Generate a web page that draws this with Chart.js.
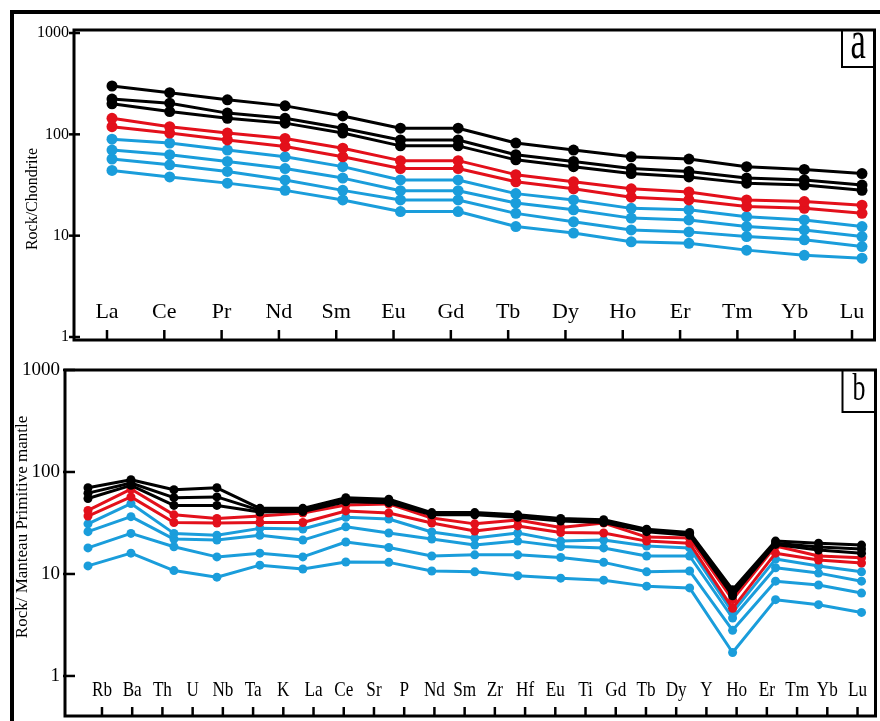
<!DOCTYPE html>
<html><head><meta charset="utf-8">
<script src="https://cdn.jsdelivr.net/npm/chart.js@4.4.1/dist/chart.umd.min.js"></script>
<style>
html,body{margin:0;padding:0;background:#fff;}
#wrap{position:relative;width:880px;height:721px;overflow:hidden;background:#fff;}
#ca{position:absolute;left:0;top:0;}
#cb{position:absolute;left:0;top:360px;}
#outer{position:absolute;left:10px;top:10px;width:900px;height:760px;border-left:4px solid #000;border-top:4px solid #000;box-sizing:border-box;}
</style></head><body>
<div id="wrap"><div id="outer"></div><canvas id="ca" width="880" height="360"></canvas><canvas id="cb" width="880" height="361"></canvas></div>
<script>
// ---------- Panel a : chondrite-normalised REE ----------
const reeLabels = ['La','Ce','Pr','Nd','Sm','Eu','Gd','Tb','Dy','Ho','Er','Tm','Yb','Lu'];
const reeBlack1 = [300,258,219,191,152,115,115,82,70,60,57,48,45,41];
const reeBlack2 = [223,203,162,144,115,88,88,63,54,46,43,37,35.5,31.6];
const reeBlack3 = [200,168,144,129,103,77,77,56,48,41,38,33,31.6,28];
const reeRed1   = [144,119,103,91,73,55,55,40,34,29,27,22.5,21.7,20];
const reeRed2   = [119,103,88,76,60,46,46,34,29,24,22.5,19.4,18.6,16.6];
const reeBlue1  = [89.5,82,70,60,48,35.5,35.5,26,22.5,18.6,18,15.4,14.3,12.3];
const reeBlue2  = [70,63,54,46,37,27.8,27.8,21,18,14.9,14.3,12.3,11.4,9.8];
const reeBlue3  = [57,50,43,35.5,28,22.5,22.5,16.6,13.7,11.4,10.9,9.8,9.1,7.8];
const reeBlue4  = [44,38,33,28,22.5,17.3,17.3,12.3,10.6,8.7,8.4,7.2,6.4,6.0];
const reeYTicks = [1,10,100,1000];

// ---------- Panel b : primitive-mantle-normalised spider ----------
const pmPointCats = ['Rb','Ba','Th','Nb','Ta','La','Ce','Sr','Nd','Sm','Zr','Eu','Gd','Tb','Dy','Ho','Er','Yb','Lu'];
const pmTickLabels = ['Rb','Ba','Th','U','Nb','Ta','K','La','Ce','Sr','P','Nd','Sm','Zr','Hf','Eu','Ti','Gd','Tb','Dy','Y','Ho','Er','Tm','Yb','Lu'];
const pmBlack1 = [70,84,67,70,44,44,56,54,40,40,38,35,34,27.5,25.5,7.0,21,20,19.2];
const pmBlack2 = [62,78,56,57,42,42,53,52,39,39,37,34,33,27,25,6.5,20,18.4,17.6];
const pmBlack3 = [55,74,47,47,40.5,41,51,50,38,38,36,33,32,26,24,6.1,19.5,17.2,16];
const pmRed1   = [42,68,38,35,37,39.6,47.5,48.6,35.4,31,33.8,28.6,31.6,23,22.5,5.6,18.8,15,14.4];
const pmRed2   = [37,57,32,31.6,32,32,41.5,39.6,31.6,26.4,29.6,25.5,25.2,21,20,4.6,16,13.7,12.8];
const pmBlue1  = [31,49,25,24,28,27.6,36,34.6,25.8,22.5,25.2,21,21.5,18.8,18,4.2,14,12,10.5];
const pmBlue2  = [26,36.5,22,21.5,24,21.5,29,25.2,22,19.2,21,18.6,18,15,15,3.7,11.5,10.2,8.5];
const pmBlue3  = [18,25,18.5,14.7,16,14.7,20.6,18.2,15,15.4,15.4,14.5,13,10.5,10.7,2.8,8.5,7.8,6.5];
const pmBlue4  = [12,16,10.8,9.3,12.2,11.2,13.1,13,10.7,10.5,9.6,9.1,8.7,7.6,7.3,1.7,5.6,5.0,4.2];
const pmYTicks = [1,10,100,1000];

const BLACK = '#000000', RED = '#e3101b', BLUE = '#1a9ddb';
const SERIF = '"Liberation Serif", "Times New Roman", serif';

function ds(arr, color, r){
  return {data: arr.map((v,i)=>({x:i,y:v})), borderColor:color, backgroundColor:color,
    borderWidth:3, pointRadius:r, pointBorderWidth:0, pointBackgroundColor:color, tension:0, fill:false};
}

function panelPlugin(o){
  return {
    id:'panel_'+o.letter,
    afterDraw(chart){
      const ctx = chart.ctx, a = chart.chartArea, ys = chart.scales.y, xl = chart.scales.xl;
      ctx.save();
      ctx.strokeStyle = '#000'; ctx.fillStyle = '#000';
      // frame
      ctx.lineWidth = 3;
      ctx.strokeRect(a.left, a.top, a.right - a.left, a.bottom - a.top);
      // y ticks + labels
      ctx.font = o.yFont; ctx.textAlign = 'right'; ctx.textBaseline = 'middle';
      ctx.lineWidth = 2.5;
      o.yTicks.forEach(v => {
        const p = ys.getPixelForValue(v);
        ctx.beginPath(); ctx.moveTo(a.left - o.yTickOut, p); ctx.lineTo(a.left + o.yTickIn, p); ctx.stroke();
        ctx.fillText(String(v), a.left - o.yLabelGap, p);
      });
      // x ticks + labels (inside plot)
      o.xLabels.forEach((t, i) => {
        const px = xl.getPixelForValue(i);
        ctx.lineWidth = 2.5;
        ctx.beginPath(); ctx.moveTo(px, a.bottom); ctx.lineTo(px, a.bottom - o.xTickLen); ctx.stroke();
        ctx.save();
        ctx.translate(px, a.bottom - o.labelRaise);
        ctx.scale(o.xScaleX, 1);
        ctx.font = o.xFont; ctx.textAlign = 'center'; ctx.textBaseline = 'alphabetic';
        ctx.fillText(t, 0, 0);
        ctx.restore();
      });
      // axis title
      ctx.save();
      ctx.translate(o.titleX, o.titleY);
      ctx.rotate(-Math.PI/2);
      ctx.font = o.titleFont; ctx.textAlign = 'center'; ctx.textBaseline = 'middle';
      ctx.fillText(o.title, 0, 0);
      ctx.restore();
      // letter box
      ctx.lineWidth = 2;
      ctx.strokeRect(a.right - o.boxW, a.top, o.boxW, o.boxH);
      ctx.save();
      ctx.translate(a.right - o.boxW/2, a.top + o.letterBase);
      ctx.scale(o.letterScaleX, 1);
      ctx.font = o.letterFont; ctx.textAlign = 'center'; ctx.textBaseline = 'alphabetic';
      ctx.fillText(o.letter, 0, 0);
      ctx.restore();
      ctx.restore();
    }
  };
}

function makeChart(id, sets, scales, padding, plugin){
  return new Chart(document.getElementById(id), {
    type:'line',
    data:{datasets:sets},
    options:{
      responsive:false, animation:false, devicePixelRatio:1,
      layout:{padding:padding},
      plugins:{legend:{display:false}, tooltip:{enabled:false}},
      scales:scales,
      elements:{line:{borderJoinStyle:'round'}}
    },
    plugins:[plugin]
  });
}

makeChart('ca', [
    ds(reeBlack1,BLACK,5.5), ds(reeBlack2,BLACK,5.5), ds(reeBlack3,BLACK,5.5),
    ds(reeRed1,RED,5.5), ds(reeRed2,RED,5.5),
    ds(reeBlue1,BLUE,5.5), ds(reeBlue2,BLUE,5.5), ds(reeBlue3,BLUE,5.5), ds(reeBlue4,BLUE,5.5)
  ],
  {
    x:{type:'linear', display:false, min:-0.6587, max:13.2167},
    xl:{type:'linear', display:false, min:-0.5758, max:13.3926},
    y:{type:'logarithmic', display:false, min:0.934, max:1071}
  },
  {left:74, top:30, right:5.5, bottom:20},
  panelPlugin({letter:'a', yTicks:reeYTicks, xLabels:reeLabels,
    yFont:'16px '+SERIF, yTickOut:5, yTickIn:6, yLabelGap:5,
    xFont:'22px '+SERIF, xScaleX:1, xTickLen:10, labelRaise:22,
    title:'Rock/Chondrite', titleFont:'16px '+SERIF, titleX:33, titleY:199,
    boxW:32.5, boxH:37, letterBase:28, letterFont:'54px '+SERIF, letterScaleX:0.64})
);

makeChart('cb', [
    ds(pmBlack1,BLACK,4.5), ds(pmBlack2,BLACK,4.5), ds(pmBlack3,BLACK,4.5),
    ds(pmRed1,RED,4.5), ds(pmRed2,RED,4.5),
    ds(pmBlue1,BLUE,4.5), ds(pmBlue2,BLUE,4.5), ds(pmBlue3,BLUE,4.5), ds(pmBlue4,BLUE,4.5)
  ],
  {
    x:{type:'linear', display:false, min:-0.5349, max:18.3256},
    xl:{type:'linear', display:false, min:-1.2235, max:25.595},
    y:{type:'logarithmic', display:false, min:0.405, max:1000}
  },
  {left:65, top:10, right:4, bottom:5},
  panelPlugin({letter:'b', yTicks:pmYTicks, xLabels:pmTickLabels,
    yFont:'19px '+SERIF, yTickOut:2, yTickIn:10, yLabelGap:5,
    xFont:'22px '+SERIF, xScaleX:0.78, xTickLen:9, labelRaise:20,
    title:'Rock/ Manteau Primitive mantle', titleFont:'17px '+SERIF, titleX:23, titleY:167,
    boxW:33, boxH:42, letterBase:30, letterFont:'37px '+SERIF, letterScaleX:0.7})
);
</script>
</body></html>
